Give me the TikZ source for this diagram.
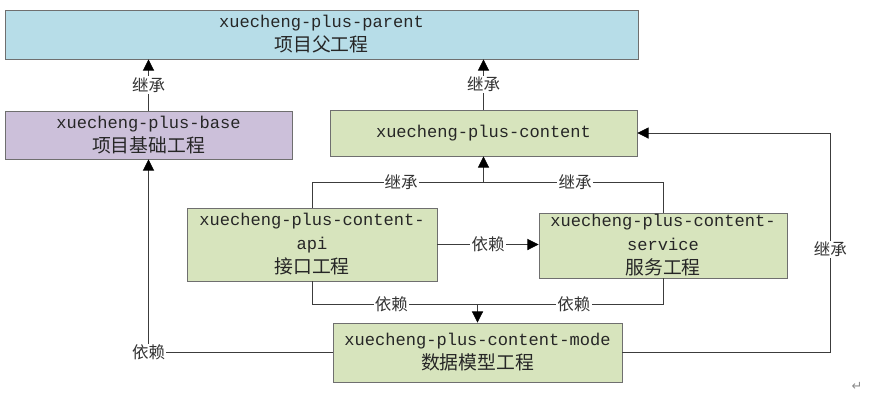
\documentclass[tikz,border=0pt]{standalone}
\usepackage{fontspec}
\setmainfont{Liberation Mono}
\newfontfamily\cjk{Noto Sans CJK SC}
\newfontfamily\symfont{DejaVu Sans}
\usepackage{tikz}
\usetikzlibrary{arrows.meta,positioning,calc}

\definecolor{parentblue}{HTML}{B7DDE8}
\definecolor{basepurple}{HTML}{CCC0DA}
\definecolor{modgreen}{HTML}{D7E4BD}
\definecolor{edgegray}{HTML}{6F6F6F}
\definecolor{linegray}{HTML}{3C3C3C}

\newcommand{\zh}[1]{{\cjk\fontsize{16}{20.4}\selectfont #1}}

\tikzset{
  box/.style={draw=edgegray, line width=0.7pt, align=center, inner sep=0pt,
    font=\fontsize{14.5}{20.4}\selectfont, text=black!85},
  wh/.style 2 args={minimum width=#1*0.85pt, minimum height=#2*0.85pt},
  link/.style={draw=linegray, line width=0.6pt},
  arr/.style={link, -{Triangle[length=9.5pt,width=9.5pt,color=black]}},
  lbl/.style={fill=white, inner sep=1pt, text=black!80,
    font=\cjk\fontsize{14}{16}\selectfont},
}

\begin{document}
\begin{tikzpicture}[x=0.85pt, y=-0.85pt]
          \useasboundingbox (0,0) rectangle (869,402);

          % project boxes
          \node[box, fill=parentblue, wh={633}{49}] (parent) at (321.5,34.5)
            {xuecheng-plus-parent\\\zh{项目父工程}};
          \node[box, fill=basepurple, wh={287}{48}] (base) at (148.5,135)
            {xuecheng-plus-base\\\zh{项目基础工程}};
          \node[box, fill=modgreen, wh={307}{46}] (content) at (483.5,133)
            {xuecheng-plus-content};
          \node[box, fill=modgreen, wh={250}{73}] (api) at (312,244.5)
            {xuecheng-plus-content-\\api\\\zh{接口工程}};
          \node[box, fill=modgreen, wh={248}{65}] (service) at (663,245.5)
            {xuecheng-plus-content-\\service\\\zh{服务工程}};
          \node[box, fill=modgreen, wh={289}{59}] (mode) at (477.5,352.5)
            {xuecheng-plus-content-mode\\\zh{数据模型工程}};

          \coordinate (jn) at ($(content.south)+(0,26)$);
          \coordinate (jm) at ($(mode.north)+(0,-18)$);

          % inheritance
          \draw[arr] (base.north) -- node[lbl]{继承} (base.north |- parent.south);
          \draw[arr] (content.north) -- node[lbl]{继承} (content.north |- parent.south);
          \draw[arr] (api.north) |- node[lbl,pos=0.76]{继承} (jn) -- (content.south);
          \draw[link] (service.north) |- node[lbl,pos=0.745]{继承} (jn);
          \draw[arr] (mode.east) -- ++(208,0) |- node[lbl,pos=0.235]{继承} (content.east);

          % dependencies
          \draw[arr] (api.east) -- node[lbl]{依赖} (api.east -| service.west);
          \draw[link] (api.south) |- node[lbl,pos=0.74]{依赖} (jm);
          \draw[link] (service.south) |- node[lbl,pos=0.74]{依赖} (jm);
          \draw[arr] (jm) -- (mode.north);
          \draw[arr] (mode.west) -| node[lbl,pos=0.5]{依赖} (base.south);

          \node[text=black!45, font=\symfont\fontsize{11}{12}\selectfont] (mark) at (857,386) {↵};
        \end{tikzpicture}
\end{document}
